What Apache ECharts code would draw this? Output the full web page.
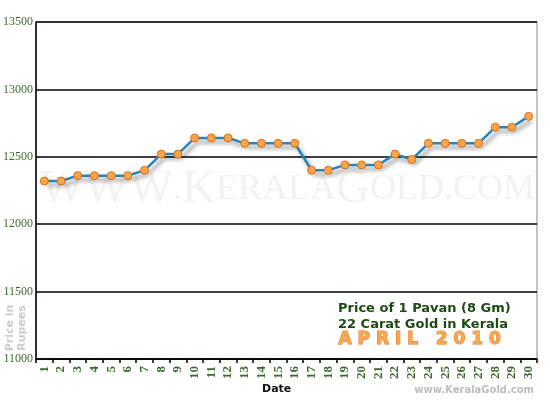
<!DOCTYPE html>
<html>
<head>
<meta charset="utf-8">
<script src="https://cdn.jsdelivr.net/npm/echarts@6/dist/echarts.min.js"></script>
<style>html,body{margin:0;padding:0;background:#fff}#c{width:550px;height:400px}</style>
</head>
<body>
<div id="c"></div>
<script>
const days = ['1','2','3','4','5','6','7','8','9','10','11','12','13','14','15','16','17','18','19','20','21','22','23','24','25','26','27','28','29','30'];
const prices = [12320,12320,12360,12360,12360,12360,12400,12520,12520,12640,12640,12640,12600,12600,12600,12600,12400,12400,12440,12440,12440,12520,12480,12600,12600,12600,12600,12720,12720,12800];
const yMin = 11000, yMax = 13500, yStep = 500;
const titleLines = ['Price of 1 Pavan (8 Gm)', '22 Carat Gold in Kerala'];
const monthLabel = 'A P R I L   2 0 1 0';

const chart = echarts.init(document.getElementById('c'));
chart.setOption({
  animation: false,
  backgroundColor: '#fff',
  grid: { left: 33, right: 13, top: 22, bottom: 41, show: true, borderColor: '#888', borderWidth: 1, backgroundColor: 'transparent' },
  graphic: [
    { type: 'text', left: 40, top: 166, z: 0, silent: true,
      style: { text: '{a|WWW}{b|.}{a|K}{b|ERALA}{a|G}{b|OLD}{b|.COM}', fill: '#f3f3f3',
        rich: { a: { fontFamily: 'Liberation Serif', fontSize: 47, fill: '#f3f3f3' }, b: { fontFamily: 'Liberation Serif', fontSize: 36, fill: '#f3f3f3' } } } },
    { type: 'text', left: 338, top: 301, z: 10,
      style: { text: titleLines.join('\n'), fill: '#1d4a12', font: 'bold 13px "DejaVu Sans"', lineHeight: 16 } },
    { type: 'text', left: 338, top: 331, z: 10,
      style: { text: monthLabel, fill: '#f8a850', stroke: '#e0761a', lineWidth: 1, font: 'bold 17px "DejaVu Sans"' } },
    { type: 'text', right: 16, top: 385, z: 10,
      style: { text: 'www.KeralaGold.com', fill: '#bdbdbd', font: 'bold 10px "DejaVu Sans"' } },
    { type: 'text', x: 16, y: 328, rotation: Math.PI/2, z: 10,
      style: { text: 'Price in\nRupees', fill: '#cccccc', font: 'bold 11px "DejaVu Sans"', lineHeight: 12, align: 'center', verticalAlign: 'middle' } },
    { type: 'text', left: 262, top: 384, z: 10,
      style: { text: 'Date', fill: '#111', font: 'bold 11px "DejaVu Sans"' } }
  ],
  xAxis: {
    type: 'category', data: days, boundaryGap: true,
    axisLine: { lineStyle: { color: '#000', width: 1.5 } },
    axisTick: { show: true, length: 4, lineStyle: { color: '#000', width: 1.5 } },
    axisLabel: { rotate: 90, interval: 0, margin: 7, color: '#3d6a2c', fontFamily: 'Liberation Serif', fontWeight: 'bold', fontSize: 13 }
  },
  yAxis: {
    type: 'value', min: yMin, max: yMax, interval: yStep,
    axisLine: { show: true, lineStyle: { color: '#000', width: 1.5 } },
    axisTick: { show: false },
    splitLine: { lineStyle: { color: '#000', width: 1.5 } },
    axisLabel: { margin: 3, color: '#3d6a2c', fontFamily: 'Liberation Serif', fontSize: 12, formatter: v => String(v) }
  },
  series: [{
    type: 'line', data: prices, z: 5,
    symbol: 'circle', symbolSize: 8,
    lineStyle: { color: '#2a84b8', width: 2.5, shadowColor: 'rgba(0,0,0,0.45)', shadowBlur: 4, shadowOffsetX: 3, shadowOffsetY: 4 },
    itemStyle: { color: '#f9a54c', borderColor: '#d8701c', borderWidth: 1 }
  }]
});
</script>
</body>
</html>
